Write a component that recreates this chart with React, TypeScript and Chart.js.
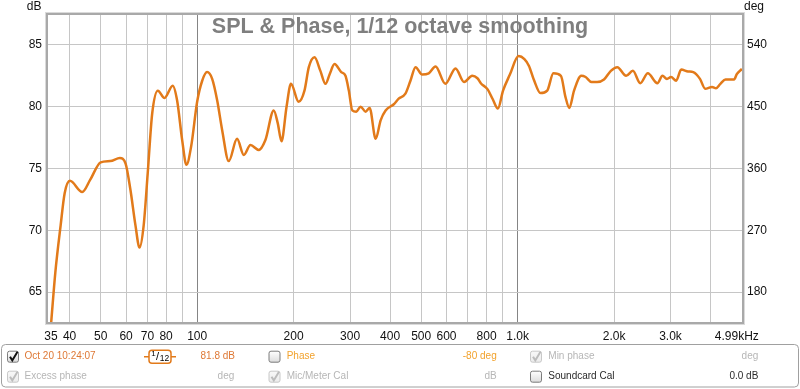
import React, { useEffect, useRef } from 'react';
import { Chart, registerables } from 'chart.js';

Chart.register(...registerables);

// ---- data ----
const freqHz = [
  35, 36.1, 37.5, 38.6, 40.1, 43.8, 46.4, 50, 53.6, 57.4, 59.8, 61.9, 64.2, 66.1, 68.1, 70.1,
  72.4, 75.4, 79.1, 83.9, 86.6, 89.8, 92.6, 95.8, 100, 103.7, 107.4, 111.4, 115.5, 119.7,
  125.5, 133.2, 139.8, 146.7, 155.7, 163.3, 173.4, 178.5, 183.3, 190.1, 196.2, 207.4, 216.2,
  223.1, 232.4, 242.4, 251.5, 259.3, 268.3, 281.5, 290.3, 297.4, 304.9, 313.8, 323.6, 335.4,
  345.3, 360.7, 373.7, 387.3, 410.9, 425.5, 446.5, 463, 480.2, 503.6, 528.1, 554.5, 595,
  640.3, 680.6, 721.5, 749.2, 767.7, 806.3, 836.5, 867.9, 900.6, 946, 1007, 1050, 1085,
  1123, 1179, 1237, 1293, 1365, 1410, 1450, 1500, 1580, 1630, 1700, 1770, 1860, 1954, 2047,
  2181, 2289, 2414, 2548, 2730, 2832, 2923, 3011, 3124, 3240, 3403, 3532, 3707, 3849, 4043,
  4160, 4293, 4455, 4736, 4833, 5012,
];
const splDb = [
  62.4, 66.6, 70.4, 73.0, 74.0, 73.1, 74.1, 75.5, 75.6, 75.85, 75.4, 73.3, 70.4, 68.6, 70.4, 74.6,
  79.45, 81.3, 80.7, 81.7, 80.5, 77.3, 75.3, 76.8, 80.4, 82.1, 82.8, 82.25, 80.5, 78.1,
  75.6, 77.4, 76.1, 76.9, 76.5, 77.3, 79.7, 78.65, 77.2, 80.0, 81.85, 80.4, 81.3,
  83.2, 84.0, 82.9, 81.85, 82.65, 83.45, 82.8, 82.5, 81.3, 79.7, 79.6, 80.0, 79.6,
  79.9, 77.4, 78.9, 79.7, 80.2, 80.65, 81.05, 82.1, 83.2, 82.6, 82.7, 83.25, 81.85,
  83.1, 82.0, 82.5, 82.3, 81.9, 81.4, 80.6, 79.85, 81.3, 82.6, 84.1, 83.85, 83.3,
  82.2, 81.1, 81.3, 82.7, 82.5, 80.8, 79.9, 81.3, 82.5, 82.4, 82.0, 82.0, 82.2, 82.9, 83.2,
  82.5, 82.9, 81.9, 82.7, 81.9, 82.5, 82.25, 82.4, 82.1, 83.0, 82.85, 82.8, 82.25, 81.45, 81.6,
  81.5, 81.85, 82.2, 82.2, 82.65, 83.05,
];

const xLabelValues = [35, 40, 50, 60, 70, 80, 100, 200, 300, 400, 500, 600, 800, 1000, 2000, 3000, 4830];
const xLabelTexts = ['35', '40', '50', '60', '70', '80', '100', '200', '300', '400', '500', '600', '800', '1.0k', '2.0k', '3.0k', '4.99kHz'];
const xGridValues = [40, 50, 60, 70, 80, 90, 100, 200, 300, 400, 500, 600, 700, 800, 900, 1000, 2000, 3000, 4000];
const xMajorValues = [100, 1000];
const splTicks = [65, 70, 75, 80, 85];
const phaseTicks = [180, 270, 360, 450, 540];

const titleText = 'SPL & Phase, 1/12 octave smoothing';
const FONT = '"Liberation Sans", Arial, sans-serif';
const LINE_COLOR = '#e27a1a';

function drawCheckbox(ctx: CanvasRenderingContext2D, x: number, y: number, checked: boolean, enabled: boolean) {
  const w = 11, h = 11, r = 2;
  ctx.save();
  ctx.beginPath();
  ctx.moveTo(x + r, y);
  ctx.arcTo(x + w, y, x + w, y + h, r);
  ctx.arcTo(x + w, y + h, x, y + h, r);
  ctx.arcTo(x, y + h, x, y, r);
  ctx.arcTo(x, y, x + w, y, r);
  ctx.closePath();
  const g = ctx.createLinearGradient(0, y, 0, y + h);
  if (enabled) {
    g.addColorStop(0, '#ffffff');
    g.addColorStop(1, '#dcdcdc');
  } else {
    g.addColorStop(0, '#f8f8f8');
    g.addColorStop(1, '#ececec');
  }
  ctx.fillStyle = g;
  ctx.fill();
  ctx.lineWidth = 1;
  ctx.strokeStyle = enabled ? '#7c7c7c' : '#c8c8c8';
  ctx.stroke();
  if (checked) {
    ctx.beginPath();
    ctx.moveTo(x + 2.5, y + 5.5);
    ctx.lineTo(x + 4.8, y + 9.2);
    ctx.lineTo(x + 10, y + 0.5);
    ctx.lineWidth = 2;
    ctx.strokeStyle = enabled ? '#111111' : '#bcbcbc';
    ctx.stroke();
  }
  ctx.restore();
}

function txt(ctx: CanvasRenderingContext2D, s: string, x: number, y: number, color: string, align: CanvasTextAlign = 'left', size = 10, weight = 'normal') {
  ctx.save();
  ctx.font = `${weight} ${size}px ${FONT}`;
  ctx.fillStyle = color;
  ctx.textAlign = align;
  ctx.textBaseline = 'middle';
  ctx.fillText(s, x, y);
  ctx.restore();
}

const decorPlugin = {
  id: 'decor',
  afterDraw(chart: any) {
    const ctx: CanvasRenderingContext2D = chart.ctx;
    const a = chart.chartArea;
    ctx.save();
    // frame
    ctx.strokeStyle = '#dadada';
    ctx.lineWidth = 1;
    ctx.strokeRect(a.left - 1.5, a.top - 1.5, a.right - a.left + 3, a.bottom - a.top + 3);
    ctx.strokeStyle = '#a9a9a9';
    ctx.lineWidth = 2;
    ctx.strokeRect(a.left, a.top, a.right - a.left, a.bottom - a.top);

    // title
    ctx.font = `bold 21.5px ${FONT}`;
    ctx.fillStyle = '#7f7f7f';
    ctx.textAlign = 'center';
    ctx.textBaseline = 'alphabetic';
    ctx.fillText(titleText, 400, 33);

    // axis unit labels
    ctx.font = `12px ${FONT}`;
    ctx.fillStyle = '#111';
    ctx.textAlign = 'right';
    ctx.fillText('dB', 41.5, 10);
    ctx.textAlign = 'left';
    ctx.fillText('deg', 744, 10);

    // legend box
    const bx = 1.5, by = 344.5, bw = 797, bh = 42.5, br = 4;
    ctx.beginPath();
    ctx.moveTo(bx + br, by);
    ctx.arcTo(bx + bw, by, bx + bw, by + bh, br);
    ctx.arcTo(bx + bw, by + bh, bx, by + bh, br);
    ctx.arcTo(bx, by + bh, bx, by, br);
    ctx.arcTo(bx, by, bx + bw, by, br);
    ctx.closePath();
    ctx.fillStyle = '#ffffff';
    ctx.fill();
    ctx.strokeStyle = '#a0a0a0';
    ctx.lineWidth = 1;
    ctx.stroke();
    ctx.restore();

    const r1 = 356.7, r2 = 376.7;
    const orange = '#de7835';
    const lightOrange = '#f2a22c';
    const gray = '#b6b6b6';
    const dark = '#2a2a2a';

    drawCheckbox(ctx, 7.5, r1 - 5.5, true, true);
    txt(ctx, 'Oct 20 10:24:07', 24.5, r1, orange);
    // smoothing icon
    ctx.save();
    ctx.strokeStyle = LINE_COLOR;
    ctx.lineWidth = 1.5;
    ctx.beginPath();
    ctx.moveTo(144, r1);
    ctx.lineTo(149, r1);
    ctx.moveTo(171, r1);
    ctx.lineTo(176, r1);
    ctx.stroke();
    const ix = 149, iy = r1 - 6.5, iw = 22, ih = 13, ir = 3;
    ctx.beginPath();
    ctx.moveTo(ix + ir, iy);
    ctx.arcTo(ix + iw, iy, ix + iw, iy + ih, ir);
    ctx.arcTo(ix + iw, iy + ih, ix, iy + ih, ir);
    ctx.arcTo(ix, iy + ih, ix, iy, ir);
    ctx.arcTo(ix, iy, ix + iw, iy, ir);
    ctx.closePath();
    ctx.fillStyle = '#fff';
    ctx.fill();
    ctx.stroke();
    ctx.restore();
    txt(ctx, '1', 153.5, r1 - 2.5, '#000', 'center', 8);
    txt(ctx, '/', 157.5, r1, '#000', 'center', 11);
    txt(ctx, '12', 164.5, r1 + 2, '#000', 'center', 8.5);
    txt(ctx, '81.8 dB', 235, r1, orange, 'right');

    drawCheckbox(ctx, 269, r1 - 5.5, false, true);
    txt(ctx, 'Phase', 286.7, r1, lightOrange);
    txt(ctx, '-80 deg', 496.7, r1, lightOrange, 'right');

    drawCheckbox(ctx, 530.5, r1 - 5.5, true, false);
    txt(ctx, 'Min phase', 548.3, r1, gray);
    txt(ctx, 'deg', 758.3, r1, gray, 'right');

    drawCheckbox(ctx, 7.5, r2 - 5.5, true, false);
    txt(ctx, 'Excess phase', 24.5, r2, gray);
    txt(ctx, 'deg', 234.3, r2, gray, 'right');

    drawCheckbox(ctx, 269, r2 - 5.5, true, false);
    txt(ctx, 'Mic/Meter Cal', 286.7, r2, gray);
    txt(ctx, 'dB', 496.7, r2, gray, 'right');

    drawCheckbox(ctx, 530.5, r2 - 5.5, false, true);
    txt(ctx, 'Soundcard Cal', 548.3, r2, dark);
    txt(ctx, '0.0 dB', 758.3, r2, dark, 'right');
  },
};

export default function App() {
  const ref = useRef<HTMLCanvasElement | null>(null);
  useEffect(() => {
    document.body.style.margin = '0';
    const canvas = ref.current;
    if (!canvas) return;
    const allXTicks = Array.from(new Set([...xLabelValues, ...xGridValues])).sort((p, q) => p - q);
    const chart = new Chart(canvas, {
      type: 'line',
      data: {
        datasets: [
          {
            data: freqHz.map((f, i) => ({ x: f, y: splDb[i] })),
            borderColor: LINE_COLOR,
            borderWidth: 2.5,
            pointRadius: 0,
            cubicInterpolationMode: 'monotone',
            fill: false,
            xAxisID: 'x',
            yAxisID: 'y',
          },
        ],
      },
      options: {
        animation: false,
        responsive: false,
        events: [],
        layout: { padding: { top: 14, bottom: 46, left: 0, right: 0 } },
        plugins: { legend: { display: false }, tooltip: { enabled: false }, title: { display: false } },
        scales: {
          x: {
            type: 'logarithmic',
            min: 34,
            max: 5050,
            afterBuildTicks: (s: any) => {
              s.ticks = allXTicks.map((v) => ({ value: v }));
            },
            afterFit: (s: any) => {
              s.height = 20;
            },
            ticks: {
              autoSkip: false,
              maxRotation: 0,
              minRotation: 0,
              padding: 6,
              color: '#111',
              font: { family: FONT, size: 12 },
              callback: (v: any) => {
                const i = xLabelValues.indexOf(Number(v));
                return i >= 0 ? xLabelTexts[i] : '';
              },
            },
            grid: {
              drawTicks: false,
              lineWidth: 1,
              color: (c: any) => {
                const v = c.tick ? c.tick.value : null;
                if (v == null || xGridValues.indexOf(v) < 0) return 'rgba(0,0,0,0)';
                return xMajorValues.indexOf(v) >= 0 ? '#858585' : '#c6c6c6';
              },
            },
            border: { display: false },
          },
          y: {
            type: 'linear',
            position: 'left',
            min: 62.5,
            max: 87.5,
            afterBuildTicks: (s: any) => {
              s.ticks = splTicks.map((v) => ({ value: v }));
            },
            afterFit: (s: any) => {
              s.width = 47;
            },
            ticks: { padding: 5, color: '#111', font: { family: FONT, size: 12 } },
            grid: { drawTicks: false, color: '#c6c6c6', lineWidth: 1 },
            border: { display: false },
          },
          y1: {
            type: 'linear',
            position: 'right',
            min: 135,
            max: 585,
            afterBuildTicks: (s: any) => {
              s.ticks = phaseTicks.map((v) => ({ value: v }));
            },
            afterFit: (s: any) => {
              s.width = 57;
            },
            ticks: { padding: 4, color: '#111', font: { family: FONT, size: 12 } },
            grid: { drawOnChartArea: false, drawTicks: false },
            border: { display: false },
          },
        },
      } as any,
      plugins: [decorPlugin],
    });
    return () => chart.destroy();
  }, []);
  return <canvas ref={ref} width={800} height={389} style={{ display: 'block' }} />;
}
